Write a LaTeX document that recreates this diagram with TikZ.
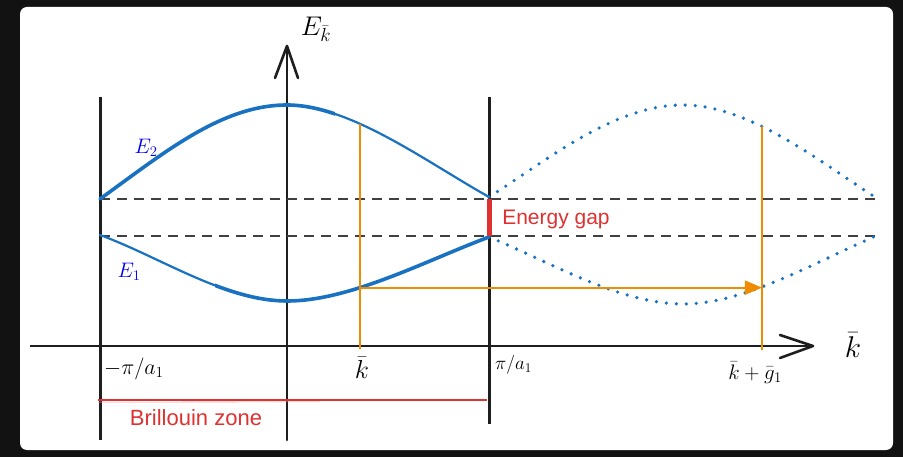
\RequirePackage{fix-cm}
\documentclass[tikz,border=0pt]{standalone}
\usepackage{fontspec}
\newfontfamily\handfont{Liberation Sans}
\usetikzlibrary{arrows.meta,intersections}
\definecolor{bg}{HTML}{121212}
\definecolor{curveblue}{HTML}{1971C2}
\definecolor{gapred}{HTML}{E03131}
\definecolor{arrorange}{HTML}{F08C00}
\definecolor{ink}{HTML}{1E1E1E}
\definecolor{lblblue}{HTML}{0000F0}
\begin{document}
\begin{tikzpicture}[x=1pt,y=-1pt,
  axisline/.style={draw=ink,line width=2.6pt,line join=round,line cap=round},
  zoneline/.style={draw=ink,line width=3pt},
  bandthick/.style={draw=curveblue,line width=3.6pt,line cap=round},
  bandthin/.style={draw=curveblue,line width=2.2pt,line cap=round},
  banddot/.style={draw=curveblue,line width=3.6pt,line cap=round,dash pattern=on 0pt off 10pt},
  levelline/.style={draw=black!75,line width=1.3pt,dash pattern=on 10pt off 7pt},
  gapbar/.style={draw=gapred,line width=5pt},
  orangeline/.style={draw=arrorange,line width=1.8pt},
  redtext/.style={text=gapred,font=\handfont\fontsize{21}{24}\selectfont},
  bluelbl/.style={text=lblblue,font=\fontsize{21}{24}\selectfont},
  mathlbl/.style={text=black,inner sep=0pt}
]
\useasboundingbox (0,0) rectangle (903,457);
\fill[bg] (0,0) rectangle (903,457);
\fill[white,rounded corners=7pt] (20,7) rectangle (893,450);

% zone boundaries
\coordinate (lt) at (100,97);  \coordinate (lb) at (100,440);
\coordinate (rt) at (489,97);  \coordinate (rb) at (489,424);
\draw[zoneline] (lt) -- (lb);
\draw[zoneline] (rt) -- (rb);

% axes
\coordinate (yb) at (287,440); \coordinate (yt) at (287,46);
\coordinate (ya1) at (275,78); \coordinate (ya2) at (298,78);
\draw[axisline] (yb) -- (yt);
\draw[axisline] (ya1) -- (yt) -- (ya2);
\coordinate (xl) at (30,346); \coordinate (xr) at (813,346);
\coordinate (xa1) at (780,335); \coordinate (xa2) at (780,358);
\draw[axisline,line cap=butt] (xl) -- (xr);
\draw[axisline] (xa1) -- (xr) -- (xa2);

% level lines
\coordinate (u0) at (100,199); \coordinate (u1) at (878,199);
\coordinate (d0) at (100,236); \coordinate (d1) at (878,236);
\draw[levelline] (u0) -- (u1);
\draw[levelline] (d0) -- (d1);

% bands in first zone
\coordinate (e2a) at (100,199); \coordinate (e2m) at (287,105); \coordinate (e2b) at (489,197);
\coordinate (e1a) at (100,235); \coordinate (e1m) at (287,301); \coordinate (e1b) at (489,237);
\draw[bandthick] (e2a) .. controls (165,152) and (222,105) .. (e2m);
\draw[bandthin,name path=e2r] (e2m) .. controls (350,105) and (425,161) .. (e2b);
\begin{scope}
  \clip (280,90) rectangle (335,130);
  \draw[bandthick] (e2m) .. controls (350,105) and (425,161) .. (e2b);
\end{scope}
\draw[bandthin] (e1a) .. controls (160,257) and (225,301) .. (e1m);
\begin{scope}
  \clip (215,270) rectangle (295,320);
  \draw[bandthick] (e1a) .. controls (160,257) and (225,301) .. (e1m);
\end{scope}
\draw[bandthick,name path=e1r] (e1m) .. controls (350,301) and (425,261) .. (e1b);

% repeated bands (dotted)
\coordinate (f2m) at (683,105); \coordinate (f2b) at (878,199);
\coordinate (f1m) at (683,304); \coordinate (f1b) at (878,235);
\draw[banddot,name path=f2] (e2b) .. controls (550,158) and (615,105) .. (f2m)
      .. controls (750,105) and (820,162) .. (f2b);
\draw[banddot,name path=f1] (e1b) .. controls (550,262) and (620,304) .. (f1m)
      .. controls (745,304) and (815,262) .. (f1b);

% energy gap
\draw[gapbar] (489,199) -- (489,236);
\node[redtext] (gap) at (556,219) {Energy gap};

% orange construction
\path[name path=v1] (360,90) -- (360,360);
\path[name path=v2] (762,90) -- (762,360);
\path[name intersections={of=v1 and e2r,by=pk2}];
\path[name intersections={of=v1 and e1r,by=pk1}];
\path[name intersections={of=v2 and f2,by=qk2}];
\path[name intersections={of=v2 and f1,by=qk1}];
\coordinate (kb) at (360,349);
\coordinate (gb) at (762,350);
\draw[orangeline] (pk2) -- (kb);
\draw[orangeline] (qk2) -- (gb);
\draw[orangeline,line width=2pt,-{Triangle[length=17pt,width=14pt]}] (pk1) -- (pk1 -| qk1);

% Brillouin zone
\coordinate (bz0) at (98,400); \coordinate (bz1) at (487,400);
\draw[draw=gapred,line width=1.6pt] (bz0) -- (bz1);
\draw[draw=gapred!45,line width=0.6pt] (98,402.2) -- (320,401.8);
\node[redtext,font=\handfont\fontsize{22}{26}\selectfont] (bz) at (196,418) {Brillouin zone};

% labels
\node[mathlbl,font=\fontsize{27}{30}\selectfont] (ylab) at (316,29) {$E_{\bar k}$};
\node[mathlbl,font=\fontsize{30}{34}\selectfont] (xlab) at (853,345) {$\bar k$};
\node[mathlbl,anchor=base west,font=\fontsize{22}{26}\selectfont] (mpi) at (104,374) {$-\pi/a_1$};
\node[mathlbl,anchor=base west,font=\fontsize{19}{22}\selectfont] (ppi) at (495,370) {$\pi/a_1$};
\node[mathlbl,anchor=base,font=\fontsize{26}{30}\selectfont] (kbar) at (362,378) {$\bar k$};
\node[mathlbl,anchor=base,font=\fontsize{21}{25}\selectfont] (kg) at (755,379) {$\bar k+\bar g_1$};
\node[bluelbl] (E2) at (146,148) {$E_2$};
\node[bluelbl] (E1) at (129,272) {$E_1$};
\end{tikzpicture}
\end{document}
